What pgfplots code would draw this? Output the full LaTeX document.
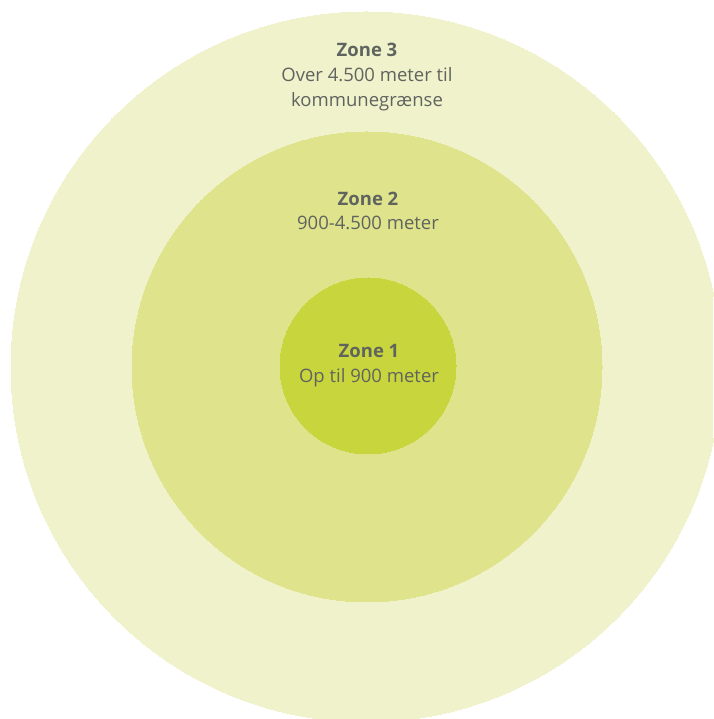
\documentclass[border=0pt]{standalone}
\usepackage{pgfplots}
\pgfplotsset{compat=1.18}
\usepackage{fontspec}
\setmainfont{Open Sans}
\definecolor{zoneA}{HTML}{C9D53C}
\definecolor{zoneB}{HTML}{DEE38C}
\definecolor{zoneC}{HTML}{EFF2CA}
\definecolor{txt}{HTML}{60645F}
\tikzset{zt/.style={text=txt, font=\fontsize{18.5}{24}\selectfont, anchor=base, inner sep=0pt}}
\begin{document}
\begin{tikzpicture}
\begin{axis}[
  width=713pt, height=719pt, scale only axis,
  xmin=0, xmax=713, ymin=0, ymax=719,
  axis lines=none, clip=true, clip marker paths=true,
  set layers,
]
% zone 3 (outer)
\addplot[only marks, color=zoneC, mark=*, mark size=355pt, mark options={solid, draw=zoneC, fill=zoneC, line width=0pt}] coordinates {(366,352)};
% zone 2
\addplot[only marks, color=zoneB, mark=*, mark size=235pt, mark options={solid, draw=zoneB, fill=zoneB, line width=0pt}] coordinates {(367,352)};
% zone 1
\addplot[only marks, color=zoneA, mark=*, mark size=88pt, mark options={solid, draw=zoneA, fill=zoneA, line width=0pt}] coordinates {(368,353)};
\begin{pgfonlayer}{axis foreground}
\node[zt] at (axis cs:367,662) {\textbf{Zone 3}};
\node[zt] at (axis cs:367,637) {Over 4.500 meter til};
\node[zt] at (axis cs:367,612) {kommunegrænse};
\node[zt] at (axis cs:368,513) {\textbf{Zone 2}};
\node[zt] at (axis cs:368,489) {900-4.500 meter};
\node[zt] at (axis cs:369,361) {\textbf{Zone 1}};
\node[zt] at (axis cs:369,336) {Op til 900 meter};
\end{pgfonlayer}
\end{axis}
\pgfresetboundingbox
\path[use as bounding box] (current axis.south west) rectangle (current axis.north east);
\end{tikzpicture}
\end{document}
